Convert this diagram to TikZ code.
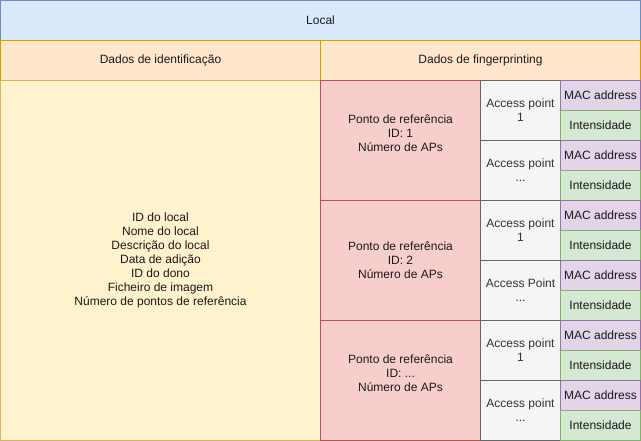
\documentclass[tikz,border=0pt]{standalone}
\usepackage{fontspec}
\setmainfont{Liberation Sans}
\usepackage{tikz}
\usetikzlibrary{positioning}

\definecolor{localfill}{HTML}{DAE8FC}
\definecolor{localdraw}{HTML}{6C8EBF}
\definecolor{headfill}{HTML}{FFE6CC}
\definecolor{headdraw}{HTML}{D79B00}
\definecolor{idfill}{HTML}{FFF2CC}
\definecolor{iddraw}{HTML}{D6B656}
\definecolor{reffill}{HTML}{F8CECC}
\definecolor{refdraw}{HTML}{B85450}
\definecolor{apfill}{HTML}{F5F5F5}
\definecolor{apdraw}{HTML}{666666}
\definecolor{aptext}{HTML}{333333}
\definecolor{macfill}{HTML}{E1D5E7}
\definecolor{macdraw}{HTML}{9673A6}
\definecolor{intfill}{HTML}{D5E8D4}
\definecolor{intdraw}{HTML}{82B366}
\definecolor{celltext}{HTML}{1A1A1A}

\begin{document}
\begin{tikzpicture}[x=1bp, y=-1bp, line width=1bp]
			\tikzstyle{every node}=[font=\fontsize{12bp}{14bp}\selectfont, text=celltext, align=center]
			\tikzstyle{cell}=[draw, rectangle, inner sep=0pt, outer sep=0pt, anchor=north west]
			\tikzstyle{refcell}=[cell, fill=reffill, draw=refdraw, minimum width=160bp, minimum height=120bp]
			\tikzstyle{apcell}=[cell, fill=apfill, draw=apdraw, text=aptext, minimum width=80bp, minimum height=60bp]
			\tikzstyle{maccell}=[cell, fill=macfill, draw=macdraw, minimum width=80bp, minimum height=30bp]
			\tikzstyle{intcell}=[cell, fill=intfill, draw=intdraw, minimum width=80bp, minimum height=30bp]
			\useasboundingbox (0,0) rectangle (641,441);
			\node[cell, fill=localfill, draw=localdraw, minimum width=640bp, minimum height=40bp] (LOCAL) at (0.5,0.5) {Local};
			\node[cell, fill=headfill, draw=headdraw, minimum width=320bp, minimum height=40bp] (IDHEAD) at (0.5,40.5) {Dados de identifica\c{c}\~ao};
			\node[cell, fill=headfill, draw=headdraw, minimum width=320bp, minimum height=40bp] (FPHEAD) at (320.5,40.5) {Dados de fingerprinting};
			\node[cell, fill=idfill, draw=iddraw, minimum width=320bp, minimum height=360bp] (IDDATA) at (0.5,80.5) {ID do local\\Nome do local\\Descri\c{c}\~ao do local\\Data de adi\c{c}\~ao\\ID do dono\\Ficheiro de imagem\\N\'umero de pontos de refer\^encia};
			\foreach \r/\id/\lastap/\dy in {1/1/point/-7, 2/2/Point/0, 3/{...}/point/-7} {
				\node[refcell] (REF\r) at (320.5,{80.5+(\r-1)*120}) {};
				\node at ([yshift=-\dy bp]REF\r.center) {Ponto de refer\^encia\\ID: \id\\N\'umero de APs};
				\node[apcell] (AP\r A) at (480.5,{80.5+(\r-1)*120}) {Access point\\1};
				\node[apcell] (AP\r B) [below=0pt of AP\r A.south west, anchor=north west] {Access \lastap\\...};
				\node[maccell] (MAC\r A) at (560.5,{80.5+(\r-1)*120}) {MAC address};
				\node[intcell] (INT\r A) [below=0pt of MAC\r A.south west, anchor=north west] {Intensidade};
				\node[maccell] (MAC\r B) [below=0pt of INT\r A.south west, anchor=north west] {MAC address};
				\node[intcell] (INT\r B) [below=0pt of MAC\r B.south west, anchor=north west] {Intensidade};
			}
		\end{tikzpicture}
\end{document}
